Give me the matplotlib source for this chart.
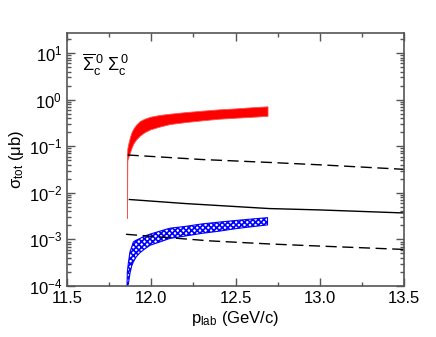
import numpy as np
import matplotlib
matplotlib.use("Agg")
import matplotlib.pyplot as plt
from matplotlib.ticker import MultipleLocator, LogLocator, NullFormatter

plt.rcParams['font.family'] = ['Liberation Sans', 'DejaVu Sans']
plt.rcParams['mathtext.fontset'] = 'custom'
plt.rcParams['mathtext.rm'] = 'Liberation Sans'
plt.rcParams['mathtext.it'] = 'Liberation Sans:italic'
plt.rcParams['mathtext.default'] = 'regular'
plt.rcParams['hatch.linewidth'] = 1.2

# bande rouge
red_x = [11.856, 11.858, 11.864, 11.874, 11.884, 11.894, 11.91, 11.933, 11.96,
         11.993, 12.05, 12.11, 12.2, 12.3, 12.4, 12.5, 12.6, 12.69]
red_lo = [0.0029, 0.05, 0.059, 0.075, 0.095, 0.115, 0.14, 0.17, 0.20,
          0.23, 0.265, 0.30, 0.33, 0.36, 0.39, 0.41, 0.43, 0.45]
red_hi = [0.065, 0.09, 0.115, 0.16, 0.205, 0.24, 0.29, 0.35, 0.39,
          0.43, 0.47, 0.50, 0.54, 0.58, 0.62, 0.65, 0.69, 0.72]

# bande bleue
blue_x = red_x
blue_lo = [1.0e-4, 1.0e-4, 1.1e-4, 1.9e-4, 2.7e-4, 3.3e-4, 4.2e-4, 5.2e-4, 6.2e-4,
           7.5e-4, 8.8e-4, 1.05e-3, 1.18e-3, 1.35e-3, 1.5e-3, 1.7e-3, 1.88e-3, 2.05e-3]
blue_hi = [1.0e-4, 2.0e-4, 3.1e-4, 5.5e-4, 6.9e-4, 8.9e-4, 9.6e-4, 1.05e-3, 1.18e-3,
           1.3e-3, 1.5e-3, 1.74e-3, 1.9e-3, 2.15e-3, 2.35e-3, 2.55e-3, 2.75e-3, 2.93e-3]

# courbes
dash_up_x = [11.86, 12.3, 12.7, 13.0, 13.5]
dash_up_y = [0.065, 0.052, 0.045, 0.040, 0.032]
solid_x = [11.87, 12.2, 12.7, 13.0, 13.5]
solid_y = [7.2e-3, 5.9e-3, 4.6e-3, 4.3e-3, 3.7e-3]
dash_lo_x = [11.85, 12.35, 12.7, 13.0, 13.5]
dash_lo_y = [1.29e-3, 9.3e-4, 8.0e-4, 7.2e-4, 6.1e-4]

fig = plt.figure(figsize=(4.36, 3.37), dpi=100)
ax = fig.add_axes([0.1537, 0.1513, 0.7729, 0.7507])

ax.fill_between(red_x, red_lo, red_hi, facecolor='red', edgecolor='#ff5050', linewidth=0.6)
ax.fill_between(blue_x, blue_lo, blue_hi, facecolor='white', edgecolor='blue',
                hatch='xxxxxx', linewidth=0.8)

ax.plot(dash_up_x, dash_up_y, color='black', lw=1.0, dashes=(8, 4))
ax.plot(solid_x, solid_y, color='black', lw=1.0)
ax.plot(dash_lo_x, dash_lo_y, color='black', lw=1.0, dashes=(8, 4))

ax.set_yscale('log')
ax.set_xlim(11.5, 13.5)
ax.set_ylim(1e-4, 27)

ax.xaxis.set_major_locator(MultipleLocator(0.5))
ax.xaxis.set_minor_locator(MultipleLocator(0.25))
ax.xaxis.set_major_formatter(plt.FuncFormatter(lambda v, p: f'{v:.1f}'))
ax.yaxis.set_major_locator(LogLocator(base=10, numticks=10))
ax.yaxis.set_minor_locator(LogLocator(base=10, subs=np.arange(2, 10), numticks=20))
ax.yaxis.set_minor_formatter(NullFormatter())

ax.tick_params(which='both', direction='in', top=True, right=True,
               colors='#555555', labelcolor='black', labelsize=12)
ax.tick_params(which='major', length=6, width=1)
ax.tick_params(which='minor', length=3, width=1)
for s in ax.spines.values():
    s.set_color('#555555')
    s.set_linewidth(1.2)

ax.set_xlabel(r'p$_{\rm lab}$ (GeV/c)', fontsize=12, labelpad=2)
ax.set_ylabel(r'$\sigma_{\rm tot}$ ($\mu$b)', fontsize=12, labelpad=2)

ax.text(0.045, 0.875, r'$\overline{\Sigma}_{\rm c}^{\,0}\ \Sigma_{\rm c}^{\,0}$',
        transform=ax.transAxes, fontsize=13, va='center', ha='left')

plt.savefig('out.png', dpi=100)
